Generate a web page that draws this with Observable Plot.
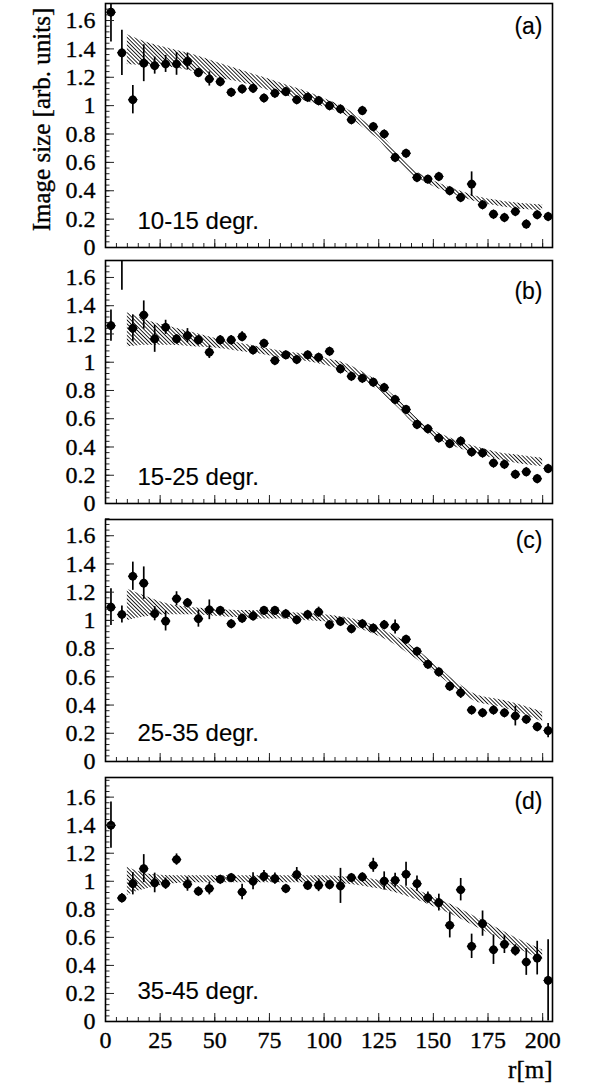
<!DOCTYPE html>
<html><head><meta charset="utf-8">
<script src="https://cdn.jsdelivr.net/npm/d3@7"></script>
<script src="https://cdn.jsdelivr.net/npm/@observablehq/plot@0.6"></script>
<style>
html,body{margin:0;padding:0;background:#fff;}
#chart{width:604px;}
#chart svg{display:block;}
</style></head><body>
<svg width="0" height="0" style="position:absolute">
 <defs>
  <pattern id="hatch" patternUnits="userSpaceOnUse" width="2.7" height="2.7" patternTransform="rotate(-45)">
   <line x1="1.35" y1="-1" x2="1.35" y2="4" stroke="#111" stroke-width="0.95"/>
  </pattern>
 </defs>
</svg>
<div id="chart"></div>
<script>
// ---- data ----
const rBins = [2.5,7.5,12.5,17.5,22.5,27.5,32.5,37.5,42.5,47.5,52.5,57.5,62.5,67.5,72.5,77.5,82.5,87.5,92.5,97.5,102.5,107.5,112.5,117.5,122.5,127.5,132.5,137.5,142.5,147.5,152.5,157.5,162.5,167.5,172.5,177.5,182.5,187.5,192.5,197.5,202.5];

const valuesA = [1.659,1.372,1.042,1.299,1.282,1.294,1.294,1.311,1.233,1.188,1.169,1.094,1.118,1.122,1.054,1.087,1.099,1.042,1.059,1.035,1.0,0.976,0.901,0.965,0.852,0.8,0.635,0.664,0.494,0.482,0.501,0.4,0.353,0.447,0.301,0.235,0.212,0.254,0.165,0.231,0.219];
const errorsA = [0.21,0.16,0.1,0.13,0.06,0.06,0.08,0.06,0.03,0.05,0.03,0.02,0.02,0.02,0.02,0.02,0.02,0.02,0.02,0.02,0.02,0.02,0.02,0.02,0.02,0.02,0.02,0.02,0.02,0.02,0.02,0.02,0.02,0.086,0.02,0.02,0.02,0.02,0.02,0.02,0.02];

const valuesB = [1.259,1.95,1.24,1.334,1.165,1.247,1.165,1.188,1.158,1.071,1.158,1.158,1.181,1.087,1.134,1.012,1.052,1.019,1.052,1.035,1.078,0.953,0.901,0.887,0.859,0.821,0.736,0.666,0.56,0.529,0.464,0.424,0.442,0.365,0.358,0.287,0.278,0.207,0.224,0.176,0.247];
const errorsB = [0.11,0.44,0.095,0.1,0.095,0.05,0.03,0.05,0.03,0.045,0.03,0.03,0.035,0.02,0.02,0.02,0.02,0.02,0.02,0.02,0.02,0.02,0.02,0.02,0.02,0.02,0.02,0.02,0.02,0.02,0.02,0.02,0.02,0.02,0.02,0.02,0.02,0.02,0.02,0.02,0.02];

const valuesC = [1.094,1.042,1.313,1.264,1.047,0.995,1.153,1.125,1.012,1.075,1.071,0.976,1.016,1.031,1.071,1.071,1.047,1.005,1.042,1.059,0.969,0.993,0.941,0.976,0.946,0.969,0.953,0.866,0.781,0.689,0.635,0.534,0.487,0.365,0.346,0.365,0.346,0.322,0.299,0.247,0.219];
const errorsC = [0.13,0.06,0.1,0.115,0.05,0.07,0.05,0.03,0.06,0.07,0.02,0.02,0.02,0.03,0.02,0.02,0.02,0.02,0.02,0.035,0.02,0.02,0.02,0.02,0.02,0.03,0.05,0.02,0.02,0.02,0.02,0.02,0.04,0.02,0.02,0.03,0.02,0.07,0.02,0.02,0.05];

const valuesD = [1.4,0.881,0.983,1.09,0.988,0.983,1.155,0.979,0.929,0.948,1.014,1.026,0.924,1.0,1.036,1.019,0.948,1.048,0.971,0.971,0.976,0.967,1.026,1.031,1.114,1.002,1.007,1.05,0.983,0.883,0.848,0.686,0.94,0.536,0.698,0.512,0.55,0.507,0.424,0.452,0.293];
const errorsD = [0.165,0.03,0.08,0.1,0.07,0.04,0.04,0.05,0.03,0.045,0.02,0.02,0.055,0.06,0.04,0.04,0.02,0.05,0.03,0.045,0.03,0.125,0.02,0.02,0.05,0.065,0.05,0.085,0.055,0.04,0.06,0.09,0.08,0.087,0.09,0.105,0.065,0.04,0.095,0.12,0.29];

const bandRA  = [10,20,30,40,50,60,70,80,90,100,110,115,120,125,130,135,140,145,150,160,170,180,190,200];
const bandLoA = [1.29,1.28,1.27,1.24,1.20,1.17,1.13,1.08,1.04,0.99,0.93,0.88,0.82,0.76,0.67,0.59,0.51,0.47,0.43,0.37,0.32,0.29,0.27,0.26];
const bandHiA = [1.50,1.44,1.40,1.36,1.31,1.26,1.21,1.16,1.11,1.05,0.98,0.93,0.87,0.81,0.73,0.64,0.56,0.51,0.47,0.41,0.36,0.33,0.31,0.30];

const bandRB  = [10,20,30,40,50,60,70,80,90,100,110,120,125,130,135,140,145,150,160,170,180,190,200];
const bandLoB = [1.11,1.12,1.12,1.11,1.10,1.08,1.06,1.03,1.01,0.98,0.93,0.85,0.80,0.73,0.66,0.58,0.52,0.47,0.40,0.35,0.31,0.28,0.26];
const bandHiB = [1.35,1.29,1.25,1.21,1.17,1.14,1.11,1.08,1.06,1.03,0.99,0.91,0.86,0.79,0.72,0.64,0.57,0.52,0.45,0.40,0.36,0.34,0.32];

const bandRC  = [10,20,30,40,50,60,70,80,90,100,110,120,130,140,150,160,170,180,190,200];
const bandLoC = [1.00,1.03,1.04,1.04,1.03,1.02,1.01,1.01,1.00,0.99,0.97,0.92,0.85,0.75,0.64,0.52,0.42,0.39,0.34,0.28];
const bandHiC = [1.22,1.16,1.11,1.09,1.08,1.07,1.07,1.06,1.05,1.04,1.02,0.98,0.91,0.82,0.70,0.57,0.47,0.44,0.40,0.35];

const bandRD  = [10,15,20,30,40,60,80,100,110,120,130,140,150,160,170,180,190,200];
const bandLoD = [0.90,0.93,0.95,0.98,0.99,0.99,0.99,0.99,0.98,0.96,0.93,0.88,0.82,0.75,0.67,0.59,0.51,0.44];
const bandHiD = [1.10,1.07,1.05,1.04,1.04,1.04,1.04,1.04,1.03,1.02,0.99,0.95,0.89,0.82,0.74,0.66,0.58,0.51];

const panelTags = ["(a)","(b)","(c)","(d)"];
const rangeLabels = ["10-15 degr.","15-25 degr.","25-35 degr.","35-45 degr."];
const yTicks = [0,0.2,0.4,0.6,0.8,1,1.2,1.4,1.6];
const yTickLabels = ["0","0.2","0.4","0.6","0.8","1","1.2","1.4","1.6"];
const xTicks = [0,25,50,75,100,125,150,175,200];
const xTickLabels = ["0","25","50","75","100","125","150","175","200"];
const yTitle = "Image size [arb. units]";
const xTitle = "r[m]";

// ---- drawing ----
const serif = "Liberation Serif";
const sans = "Liberation Sans";
const txtSerif = {fill:"black", stroke:"black", strokeWidth:0.35};
const txtSans = {fill:"black", stroke:"black", strokeWidth:0.15};
const yMinor = d3.range(0, 1.75, 0.04);
const xMinor = d3.range(0, 205, 5);
const yTickData = yTicks.map((t,i)=>({t, label: yTickLabels[i]}));
const xTickData = xTicks.map((t,i)=>({t, label: xTickLabels[i]}));

const series = [
  {values: valuesA, errors: errorsA, bR: bandRA, bLo: bandLoA, bHi: bandHiA},
  {values: valuesB, errors: errorsB, bR: bandRB, bLo: bandLoB, bHi: bandHiB},
  {values: valuesC, errors: errorsC, bR: bandRC, bLo: bandLoC, bHi: bandHiC},
  {values: valuesD, errors: errorsD, bR: bandRD, bLo: bandLoD, bHi: bandHiD}
];
const layouts = [
  {height:256, mt:3, mb:9, ymax:1.72, tagDy:23, rangeDy:-18.4},
  {height:256, mt:4, mb:9, ymax:1.72, tagDy:31, rangeDy:-18.3},
  {height:257, mt:7, mb:8, ymax:1.715, tagDy:21, rangeDy:-21},
  {height:321, mt:8, mb:69, ymax:1.74, tagDy:24, rangeDy:-22.7}
];

const chart = document.getElementById("chart");
series.forEach((s, k) => {
  const L = layouts[k];
  const pts = rBins.map((r,i)=>({r, v: s.values[i], e: s.errors[i]}));
  const inside = pts.filter(d => d.v < L.ymax);
  const band = s.bR.map((r,i)=>({r, lo: s.bLo[i], hi: s.bHi[i]}));
  const marks = [
    Plot.areaY(band, {x:"r", y1:"lo", y2:"hi", fill:"url(#hatch)", curve:"monotone-x"}),
    Plot.ruleX(pts, {x:"r", y1: d=>d.v-d.e, y2: d=>d.v+d.e, stroke:"black", strokeWidth:1.7, clip:true}),
    Plot.dot(inside, {x:"r", y:"v", r:4.3, fill:"black", stroke:null}),
    Plot.dot(inside, {x:"r", y:"v", r:4.5, symbol:"diamond2", fill:"black", stroke:null}),
    Plot.axisY({anchor:"left", ticks: yMinor, tickSize:4.5, dx:4.5, fill:"none", stroke:"#222", label:null}),
    Plot.axisY({anchor:"left", ticks: yTicks, tickSize:9, dx:9, fill:"none", stroke:"#222", label:null}),
    Plot.text(yTickData, {y:"t", text:"label", frameAnchor:"left", dx:-10, textAnchor:"end", lineAnchor:"middle", fontSize:24, fontFamily:serif, ...txtSerif}),
    Plot.axisX({anchor:"bottom", ticks: xMinor, tickSize:4, dy:-4, fill:"none", stroke:"#222", label:null}),
    Plot.axisX({anchor:"bottom", ticks: xTicks, tickSize:8, dy:-8, fill:"none", stroke:"#222", label:null}),
    Plot.frame({stroke:"black", strokeWidth:1.6}),
    Plot.text([panelTags[k]], {frameAnchor:"top-right", dx:-10, dy:L.tagDy, textAnchor:"end", lineAnchor:"middle", fontSize:23, fontFamily:sans, ...txtSans}),
    Plot.text([rangeLabels[k]], {frameAnchor:"bottom-left", dx:32, dy:L.rangeDy, textAnchor:"start", lineAnchor:"bottom", fontSize:24, fontFamily:sans, ...txtSans})
  ];
  if (k === 0) {
    marks.push(Plot.text([yTitle], {frameAnchor:"left", dx:-56, dy:-6, rotate:-90, textAnchor:"middle", lineAnchor:"bottom", fontSize:25, fontFamily:serif, ...txtSerif}));
  }
  if (k === 3) {
    marks.push(Plot.text(xTickData, {x:"t", text:"label", frameAnchor:"bottom", dy:26, textAnchor:"middle", lineAnchor:"bottom", fontSize:24, fontFamily:serif, ...txtSerif}));
    marks.push(Plot.text([xTitle], {frameAnchor:"bottom-right", dx:0, dy:56.3, textAnchor:"end", lineAnchor:"bottom", fontSize:25, fontFamily:serif, ...txtSerif}));
  }
  const svg = Plot.plot({
    width: 604, height: L.height,
    marginLeft: 105, marginRight: 52, marginTop: L.mt, marginBottom: L.mb,
    x: {domain:[0, 204.5]},
    y: {domain:[0, L.ymax]},
    style: {background:"white", color:"black", overflow:"visible"},
    marks
  });
  chart.appendChild(svg);
});
</script>
</body></html>
